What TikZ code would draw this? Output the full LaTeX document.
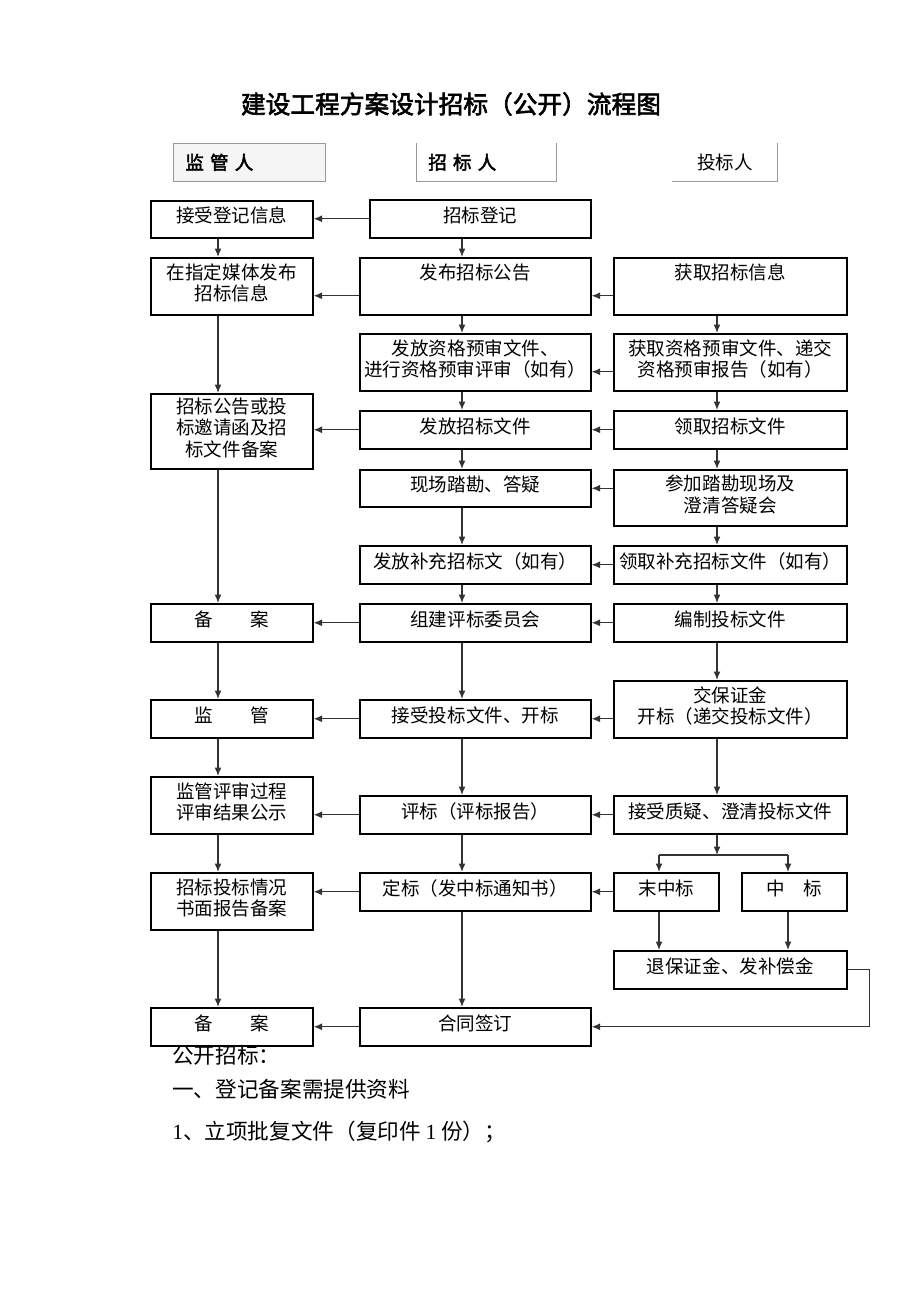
\documentclass[tikz,border=0pt]{standalone}
\usepackage{fontspec}
\setmainfont[AutoFakeBold=2.5]{Noto Sans CJK SC}
\newfontfamily\numfont{Liberation Serif}
\usepackage{tikz}
\usetikzlibrary{positioning}
\usetikzlibrary{calc}
\usetikzlibrary{arrows.meta}
\newcommand{\px}{0.6477pt}
\tikzset{flow box/.style={draw=black, line width=1pt, rectangle, anchor=north west, align=center, inner sep=2pt, text depth=5.5pt}}
\tikzset{box size/.style 2 args={minimum width=#1*\px, minimum height=#2*\px}}
\tikzset{flow arrow/.style={draw=black!80, line width=0.8pt, -{Latex[length=5.5pt,width=4.5pt]}}}
\tikzset{flow line/.style={draw=black!80, line width=0.8pt}}
\tikzset{role box/.style={anchor=north west, minimum height=38*\px, align=left, inner xsep=12*\px}}
\tikzset{role line/.style={draw=black!40, line width=0.5pt}}
\tikzset{top text/.style={anchor=north, yshift=-1pt}}

\begin{document}
\begin{tikzpicture}[x=\px, y=-\px, font=\fontsize{12pt}{14pt}\selectfont]
\useasboundingbox (0,0) rectangle (920,1302);
\node[font=\fontsize{16pt}{18pt}\selectfont\bfseries] (title) at (451,104) {建设工程方案设计招标（公开）流程图};

% roles
\node[role box, text width=128*\px, fill=black!4, role line] (jg) at (173,143) {\bfseries 监\ 管\ 人};
\node[role box, text width=116*\px] (zb) at (416,143) {\bfseries 招\ 标\ 人};
\node[role box, minimum width=105*\px, inner xsep=0pt, align=center] (tb) at (672,143) {投标人};
\draw[role line] (zb.north west) -- (zb.south west) -- (zb.south east) -- (zb.north east);
\draw[role line] (tb.south west) -- (tb.south east) -- (tb.north east);

\coordinate (lx) at (218,0);
\coordinate (mx) at (462,0);
\coordinate (rx) at (717,0);

% boxes
\node[flow box, box size={162}{37}] (jieshou) at (150,200) {接受登记信息};
\node[flow box, box size={221}{38}] (dengji) at (369,199) {招标登记};
\node[flow box, box size={162}{57}] (meiti) at (150,257) {在指定媒体发布\\招标信息};
\node[flow box, box size={231}{57}, label={[top text]north:发布招标公告}] (gonggao) at (359,257) {};
\node[flow box, box size={233}{57}, label={[top text]north:获取招标信息}] (huoqu) at (613,257) {};
\node[flow box, box size={231}{57}] (yushen) at (359,333) {发放资格预审文件、\\进行资格预审评审（如有）};
\node[flow box, box size={233}{57}] (dijiao) at (613,333) {获取资格预审文件、递交\\资格预审报告（如有）};
\node[flow box, box size={162}{75}] (beian1) at (150,393) {招标公告或投\\标邀请函及招\\标文件备案};
\node[flow box, box size={231}{38}] (fafang) at (359,410) {发放招标文件};
\node[flow box, box size={233}{38}] (lingqu) at (613,410) {领取招标文件};
\node[flow box, box size={231}{37}] (kancha) at (359,469) {现场踏勘、答疑};
\node[flow box, box size={233}{56}] (canjia) at (613,469) {参加踏勘现场及\\澄清答疑会};
\node[flow box, box size={231}{38}] (buchong) at (359,545) {发放补充招标文（如有）};
\node[flow box, box size={233}{38}] (lingbu) at (613,545) {领取补充招标文件（如有）};
\node[flow box, box size={162}{38}] (beian2) at (150,603) {备\hspace{2em}案};
\node[flow box, box size={231}{38}] (zujian) at (359,603) {组建评标委员会};
\node[flow box, box size={233}{38}] (bianzhi) at (613,603) {编制投标文件};
\node[flow box, box size={162}{38}] (jianguan) at (150,699) {监\hspace{2em}管};
\node[flow box, box size={231}{38}] (kaibiao) at (359,699) {接受投标文件、开标};
\node[flow box, box size={233}{57}] (baozheng) at (613,680) {交保证金\\开标（递交投标文件）};
\node[flow box, box size={162}{57}] (pingshen) at (150,776) {监管评审过程\\评审结果公示};
\node[flow box, box size={231}{38}] (pingbiao) at (359,795) {评标（评标报告）};
\node[flow box, box size={233}{38}] (zhiyi) at (613,795) {接受质疑、澄清投标文件};
\node[flow box, box size={162}{57}] (baogao) at (150,872) {招标投标情况\\书面报告备案};
\node[flow box, box size={231}{38}] (dingbiao) at (359,872) {定标（发中标通知书）};
\node[flow box, box size={105}{38}] (weizhong) at (613,872) {末中标};
\node[flow box, box size={105}{38}] (zhongbiao) at (741,872) {中\hspace{1em}标};
\node[flow box, box size={233}{38}] (tuibao) at (613,950) {退保证金、发补偿金};
\node[flow box, box size={162}{38}] (beian3) at (150,1007) {备\hspace{2em}案};
\node[flow box, box size={231}{38}] (hetong) at (359,1007) {合同签订};

% supervisor column
\draw[flow arrow] (jieshou.south -| lx) -- (meiti.north -| lx);
\draw[flow arrow] (meiti.south -| lx) -- (beian1.north -| lx);
\draw[flow arrow] (beian1.south -| lx) -- (beian2.north -| lx);
\draw[flow arrow] (beian2.south -| lx) -- (jianguan.north -| lx);
\draw[flow arrow] (jianguan.south -| lx) -- (pingshen.north -| lx);
\draw[flow arrow] (pingshen.south -| lx) -- (baogao.north -| lx);
\draw[flow arrow] (baogao.south -| lx) -- (beian3.north -| lx);

% tenderee column
\draw[flow arrow] (dengji.south -| mx) -- (gonggao.north -| mx);
\draw[flow arrow] (gonggao.south -| mx) -- (yushen.north -| mx);
\draw[flow arrow] (yushen.south -| mx) -- (fafang.north -| mx);
\draw[flow arrow] (fafang.south -| mx) -- (kancha.north -| mx);
\draw[flow arrow] (kancha.south -| mx) -- (buchong.north -| mx);
\draw[flow arrow] (buchong.south -| mx) -- (zujian.north -| mx);
\draw[flow arrow] (zujian.south -| mx) -- (kaibiao.north -| mx);
\draw[flow arrow] (kaibiao.south -| mx) -- (pingbiao.north -| mx);
\draw[flow arrow] (pingbiao.south -| mx) -- (dingbiao.north -| mx);
\draw[flow arrow] (dingbiao.south -| mx) -- (hetong.north -| mx);

% bidder column
\draw[flow arrow] (huoqu.south -| rx) -- (dijiao.north -| rx);
\draw[flow arrow] (dijiao.south -| rx) -- (lingqu.north -| rx);
\draw[flow arrow] (lingqu.south -| rx) -- (canjia.north -| rx);
\draw[flow arrow] (canjia.south -| rx) -- (lingbu.north -| rx);
\draw[flow arrow] (lingbu.south -| rx) -- (bianzhi.north -| rx);
\draw[flow arrow] (bianzhi.south -| rx) -- (baozheng.north -| rx);
\draw[flow arrow] (baozheng.south -| rx) -- (zhiyi.north -| rx);

% across
\draw[flow arrow] (dengji.west) -- (dengji.west -| jieshou.east);
\draw[flow arrow] ($(gonggao.west)+(0,9.5)$) -- ($(meiti.east)+(0,9.5)$);
\draw[flow arrow] ($(huoqu.west)+(0,9.5)$) -- ($(gonggao.east)+(0,9.5)$);
\draw[flow arrow] ($(dijiao.west)+(0,9.5)$) -- ($(yushen.east)+(0,9.5)$);
\draw[flow arrow] (fafang.west) -- (fafang.west -| beian1.east);
\draw[flow arrow] (lingqu.west) -- (fafang.east);
\draw[flow arrow] (canjia.west |- kancha.east) -- (kancha.east);
\draw[flow arrow] (lingbu.west) -- (buchong.east);
\draw[flow arrow] (zujian.west) -- (beian2.east);
\draw[flow arrow] (bianzhi.west) -- (zujian.east);
\draw[flow arrow] (kaibiao.west) -- (jianguan.east);
\draw[flow arrow] (baozheng.west |- kaibiao.east) -- (kaibiao.east);
\draw[flow arrow] (pingbiao.west) -- (pingbiao.west -| pingshen.east);
\draw[flow arrow] (zhiyi.west) -- (pingbiao.east);
\draw[flow arrow] (dingbiao.west) -- (dingbiao.west -| baogao.east);
\draw[flow arrow] (weizhong.west) -- (dingbiao.east);
\draw[flow arrow] (hetong.west) -- (beian3.east);
\draw[flow arrow] (tuibao.east) -- ++(22,0) |- (hetong.east);

% result fork
\coordinate (fork) at (717,855);
\coordinate (lose) at (659,855);
\coordinate (win) at (788,855);
\draw[flow arrow] (zhiyi.south -| fork) -- (fork);
\draw[flow line] (lose) -- (win);
\draw[flow arrow] (lose) -- (weizhong.north -| lose);
\draw[flow arrow] (win) -- (zhongbiao.north -| win);
\draw[flow arrow] (weizhong.south -| lose) -- (tuibao.north -| lose);
\draw[flow arrow] (zhongbiao.south -| win) -- (tuibao.north -| win);

% notes
\node[anchor=west, font=\fontsize{14pt}{16pt}\selectfont, inner sep=0pt] (note1) at (172,1055) {公开招标：};
\node[anchor=west, font=\fontsize{14pt}{16pt}\selectfont, inner sep=0pt] (note2) at (172,1089) {一、登记备案需提供资料};
\node[anchor=west, font=\fontsize{14pt}{16pt}\selectfont, inner sep=0pt] (note3) at (172,1132) {{\numfont 1}、立项批复文件（复印件 {\numfont 1} 份）；};
\end{tikzpicture}
\end{document}
